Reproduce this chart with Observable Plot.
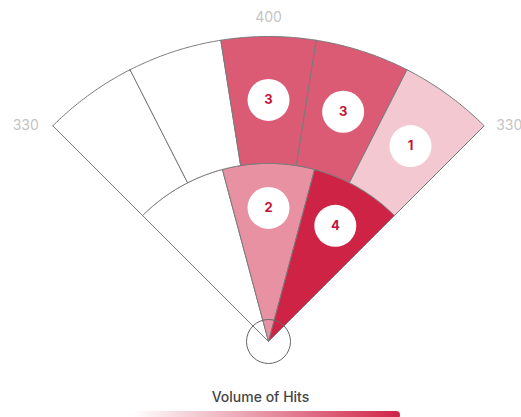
<!DOCTYPE html>
<html><head><meta charset="utf-8">
<script src="https://cdn.jsdelivr.net/npm/d3@7"></script>
<script src="https://cdn.jsdelivr.net/npm/@observablehq/plot@0.6"></script>
<style>
html,body{margin:0;padding:0;background:#fff;}
body{width:521px;height:417px;overflow:hidden;font-family:Inter,"Open Sans",sans-serif;}
#legendTitle{width:521px;text-align:center;font-size:14px;line-height:20px;padding-top:2px;color:#444;font-weight:500;}
#legendBar{margin:4px 0 0 133px;width:267px;height:8px;border-radius:4px;}
</style></head><body>
<div id="chart"></div>
<div id="legendTitle"></div>
<div id="legendBar"></div>
<script>
// Zones of the field (angles in degrees from centre field, negative = left field)
const outerEdges = [-45, -27, -9, 9, 27, 45];
const outerHits  = [0, 0, 3, 3, 1];
const innerEdges = [-45, -15, 15, 45];
const innerHits  = [0, 2, 4];
// ring radii as fraction of the wall distance
const ringRadii = [0, 0.584, 1];
// wall distance labels
const wallLabels = ["330", "400", "330"];
const wallAngles = [-45, 0, 45];
const legendTitle = "Volume of Hits";
const hitDomain = [0, 4];
const hitRange = ["#ffffff", "#cf2346"];

const rad = d => d * Math.PI / 180;
const pt = (r, a) => ({x: r * Math.sin(rad(a)), y: r * Math.cos(rad(a))});

function sectors(edges, hits, r0, r1, ring) {
  return hits.map((v, i) => ({ring, id: ring + i, a0: edges[i], a1: edges[i + 1], r0, r1, value: v}));
}
const zones = [
  ...sectors(innerEdges, innerHits, ringRadii[0], ringRadii[1], "in"),
  ...sectors(outerEdges, outerHits, ringRadii[1], ringRadii[2], "out")
];
const polyPts = [];
for (const z of zones) {
  const n = 40;
  const pts = [];
  for (let k = 0; k <= n; k++) pts.push(pt(z.r1, z.a0 + (z.a1 - z.a0) * k / n));
  if (z.r0 === 0) pts.push(pt(0, 0));
  else for (let k = n; k >= 0; k--) pts.push(pt(z.r0, z.a0 + (z.a1 - z.a0) * k / n));
  pts.push(pts[0]);
  for (const p of pts) polyPts.push({...p, id: z.id, value: z.value});
}
const labels = zones.filter(z => z.value > 0).map(z => {
  const am = (z.a0 + z.a1) / 2;
  const r = z.r0 === 0 ? z.r1 * 0.75 : (z.r0 + z.r1) / 2;
  return {...pt(r, am), text: String(z.value)};
});
const walls = wallLabels.map((t, i) => ({...pt(ringRadii[2], wallAngles[i]), text: t, a: wallAngles[i]}));

const R = 305, W = 521, H = 385, hx = 268, hy = 341;
const plot = Plot.plot({
  width: W, height: H,
  margin: 0,
  x: {domain: [-hx / R, (W - hx) / R], axis: null},
  y: {domain: [-(H - hy) / R, hy / R], axis: null},
  color: {type: "linear", domain: hitDomain, range: hitRange, interpolate: "rgb"},
  style: {fontFamily: "Inter, 'Open Sans', sans-serif", background: "#fff"},
  marks: [
    Plot.line(polyPts, {x: "x", y: "y", z: "id", fill: "value", stroke: "#7a7a7a", strokeWidth: 1, curve: "linear"}),
    Plot.dot([{x: 0, y: 0}], {x: "x", y: "y", r: 22, stroke: "#666", strokeWidth: 1, fill: "none"}),
    Plot.dot(labels, {x: "x", y: "y", r: 21, fill: "#fff"}),
    Plot.text(labels, {x: "x", y: "y", text: "text", fill: "#c2143a", fontSize: 13, fontWeight: 700}),
    Plot.text(walls.filter(d => d.a === 0), {x: "x", y: "y", text: "text", dy: -19, fill: "#c4c4c4", fontSize: 14}),
    Plot.text(walls.filter(d => d.a < 0), {x: "x", y: "y", text: "text", dx: -14, textAnchor: "end", fill: "#c4c4c4", fontSize: 14}),
    Plot.text(walls.filter(d => d.a > 0), {x: "x", y: "y", text: "text", dx: 12, textAnchor: "start", fill: "#c4c4c4", fontSize: 14})
  ]
});
document.getElementById("chart").append(plot);
document.getElementById("legendTitle").textContent = legendTitle;
const cs = plot.scale("color");
const interp = d3.interpolateRgb(cs.range[0], cs.range[1]);
const stops = d3.range(0, 1.0001, 0.1).map(t => `${interp(t)} ${t * 100}%`).join(",");
document.getElementById("legendBar").style.background = `linear-gradient(to right, ${stops})`;
</script>
</body></html>
